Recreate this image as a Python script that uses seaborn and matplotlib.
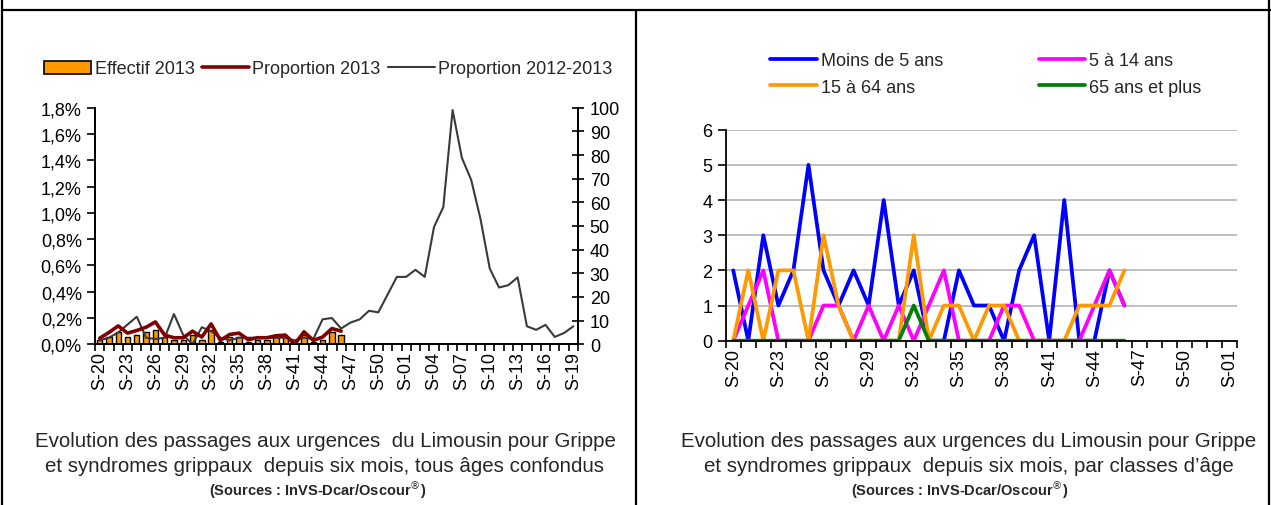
import matplotlib
matplotlib.use("Agg")
import matplotlib.pyplot as plt
from matplotlib.lines import Line2D
from matplotlib.patches import Patch
from matplotlib.ticker import FuncFormatter, MultipleLocator
import seaborn as sns
import pandas as pd
import numpy as np

# semaines S-20 (2013) .. S-19 (2014)
weeks_all = ["S-%02d" % w for w in list(range(20, 53)) + list(range(1, 20))]
weeks_age = weeks_all[:34]  # S-20 .. S-01

# graphique de gauche
effectif_2013 = [2, 3, 5, 3, 4, 5, 6, 3, 2, 2, 4, 2, 6, 1, 3, 3, 1, 2, 2, 3, 3, 0, 4, 1, 2, 5, 4]
proportion_2013 = [0.046, 0.09, 0.14, 0.085, 0.105, 0.13, 0.17, 0.07, 0.05, 0.05, 0.1, 0.055, 0.155, 0.03,
                   0.075, 0.085, 0.035, 0.05, 0.05, 0.065, 0.07, 0.0, 0.095, 0.03, 0.055, 0.12, 0.1]
proportion_2012_2013 = [0.03, 0.05, 0.09, 0.15, 0.21, 0.05, 0.04, 0.05, 0.23, 0.07, 0.0, 0.13, 0.1, 0.05,
                        0.03, 0.05, 0.05, 0.05, 0.05, 0.05, 0.05, 0.03, 0.05, 0.04, 0.19, 0.2, 0.12, 0.165,
                        0.19, 0.255, 0.243, 0.378, 0.513, 0.513, 0.567, 0.513, 0.893, 1.044, 1.782, 1.418,
                        1.251, 0.954, 0.576, 0.432, 0.45, 0.509, 0.137, 0.11, 0.148, 0.056, 0.086, 0.137]

# graphique de droite, par classes d'age
moins_5 = [2, 0, 3, 1, 2, 5, 2, 1, 2, 1, 4, 1, 2, 0, 0, 2, 1, 1, 0, 2, 3, 0, 4, 0, 0, 2, 1]
de_5_14 = [0, 1, 2, 0, 0, 0, 1, 1, 0, 1, 0, 1, 0, 1, 2, 0, 0, 0, 1, 1, 0, 0, 0, 0, 1, 2, 1]
de_15_64 = [0, 2, 0, 2, 2, 0, 3, 1, 0, 0, 0, 0, 3, 0, 1, 1, 0, 1, 1, 0, 0, 0, 0, 1, 1, 1, 2]
plus_65 = [0, 0, 0, 0, 0, 0, 0, 0, 0, 0, 0, 0, 1, 0, 0, 0, 0, 0, 0, 0, 0, 0, 0, 0, 0, 0, 0]

sns.set_theme(style="white")
plt.rcParams["font.family"] = ["Liberation Sans", "DejaVu Sans"]
plt.rcParams["axes.linewidth"] = 1.3
plt.rcParams["axes.edgecolor"] = "black"
plt.rcParams["xtick.color"] = "black"
plt.rcParams["ytick.color"] = "black"

FS = 13
W, H = 1271, 506
fig = plt.figure(figsize=(W / 100, H / 100), dpi=100)


def px_axes(x0, x1, ytop, ybot):
    return fig.add_axes([x0 / W, 1 - ybot / H, (x1 - x0) / W, (ybot - ytop) / H])


# ---------- gauche ----------
ax = px_axes(95, 578, 108.7, 345.3)
ax2 = ax.twinx()
ax2.set_zorder(ax.get_zorder() - 1)
ax.patch.set_visible(False)

df_eff = pd.DataFrame({"pos": np.arange(len(effectif_2013)), "eff": effectif_2013})
sns.barplot(data=df_eff, x="pos", y="eff", native_scale=True, color="#FF9900", saturation=1,
            edgecolor="black", linewidth=1, width=0.58, ax=ax2)

sns.lineplot(x=np.arange(len(proportion_2012_2013)), y=proportion_2012_2013, color="#3A3A3A",
             lw=1.5, ax=ax)
sns.lineplot(x=np.arange(len(proportion_2013)), y=proportion_2013, color="#800000", lw=2.6, ax=ax)

ax.set_xlim(-0.5, len(weeks_all) - 0.5)
ax.set_ylim(0, 1.8)
ax.yaxis.set_major_locator(MultipleLocator(0.2))
ax.yaxis.set_major_formatter(FuncFormatter(lambda v, _: ("%.1f%%" % v).replace(".", ",")))
ax2.set_ylim(0, 100)
ax2.yaxis.set_major_locator(MultipleLocator(10))
ax.set_xticks(np.arange(0, len(weeks_all), 3))
ax.set_xticklabels(weeks_all[::3], rotation=90)
ax.set_xticks(np.arange(-0.5, len(weeks_all), 1), minor=True)
ax.tick_params(axis="x", which="major", length=0, pad=5, labelsize=FS)
ax.tick_params(axis="x", which="minor", length=5, width=1.2, direction="out", bottom=True)
ax.tick_params(axis="y", length=6, width=1.2, direction="out", labelsize=FS, left=True)
ax2.tick_params(axis="y", length=9, width=1.2, direction="inout", labelsize=FS, right=True, pad=4)
for a in (ax, ax2):
    a.spines["top"].set_visible(False)
    a.set_xlabel("")
    a.set_ylabel("")

handles = [Patch(facecolor="#FF9900", edgecolor="black", linewidth=1.2),
           Line2D([], [], color="#800000", lw=2.6),
           Line2D([], [], color="#3A3A3A", lw=1.5)]
fig.legend(handles, ["Effectif 2013", "Proportion 2013", "Proportion 2012-2013"],
           loc="center left", bbox_to_anchor=(44 / W, 1 - 70 / H), ncol=3, frameon=False,
           fontsize=FS, handlelength=2.6, handletextpad=0.2, columnspacing=0.4,
           borderpad=0, borderaxespad=0)

# ---------- droite ----------
bx = px_axes(725.7, 1237.3, 130.7, 341.7)
pos = np.arange(len(moins_5))
series = [(moins_5, "Moins de 5 ans", "#0000FF"),
          (de_5_14, "5 à 14 ans", "#FF00FF"),
          (de_15_64, "15 à 64 ans", "#FF9900"),
          (plus_65, "65 ans et plus", "#008000")]
for vals, name, col in series:
    sns.lineplot(x=pos, y=vals, color=col, lw=2.7, ax=bx, label=name, legend=False)

bx.set_xlim(-0.5, len(weeks_age) - 0.5)
bx.set_ylim(0, 6)
bx.set_yticks(range(0, 7))
bx.grid(axis="y", color="#BFBFBF", lw=1.4)
bx.set_axisbelow(True)
bx.set_xticks(np.arange(0, len(weeks_age), 3))
bx.set_xticklabels(weeks_age[::3], rotation=90)
bx.set_xticks(np.arange(-0.5, len(weeks_age), 1), minor=True)
bx.tick_params(axis="x", which="major", length=0, pad=5, labelsize=FS)
bx.tick_params(axis="x", which="minor", length=5, width=1.2, direction="out", bottom=True)
bx.tick_params(axis="y", length=6, width=1.2, direction="out", labelsize=FS, left=True)
bx.spines["top"].set_visible(False)
bx.spines["right"].set_visible(False)
bx.set_xlabel("")
bx.set_ylabel("")

h = [Line2D([], [], color=c, lw=2.7) for _, _, c in series]
lab = [n for _, n, _ in series]
order = [0, 2, 1, 3]
fig.legend([h[i] for i in order], [lab[i] for i in order], loc="center left",
           bbox_to_anchor=(770 / W, 1 - 75 / H), ncol=2, frameon=False, fontsize=FS,
           handlelength=2.6, handletextpad=0.2, columnspacing=5.3, labelspacing=0.5,
           borderpad=0, borderaxespad=0)

# ---------- legendes textuelles ----------
cap = dict(ha="center", va="center", fontsize=14.8)
src = dict(ha="center", va="center", fontsize=10.5, fontweight="bold")
fig.text(325 / W, 1 - 442 / H, "Evolution des passages aux urgences  du Limousin pour Grippe", **cap)
fig.text(325 / W, 1 - 467 / H, "et syndromes grippaux  depuis six mois, tous âges confondus", **cap)
fig.text(318 / W, 1 - 490 / H, "(Sources : InVS-Dcar/Oscour$^{®}$)", **src)
fig.text(969 / W, 1 - 442 / H, "Evolution des passages aux urgences du Limousin pour Grippe", **cap)
fig.text(969 / W, 1 - 467 / H, "et syndromes grippaux  depuis six mois, par classes d’âge", **cap)
fig.text(960 / W, 1 - 490 / H, "(Sources : InVS-Dcar/Oscour$^{®}$)", **src)

# ---------- cadre ----------
frame = [((2, 2), (0, H)), ((2, W), (11, 11)), ((636, 636), (11, H)), ((1269, 1269), (0, H))]
for xs, ys in frame:
    fig.add_artist(Line2D([x / W for x in xs], [1 - y / H for y in ys], transform=fig.transFigure,
                          color="black", lw=1.6))

fig.savefig("out.png", dpi=100)
